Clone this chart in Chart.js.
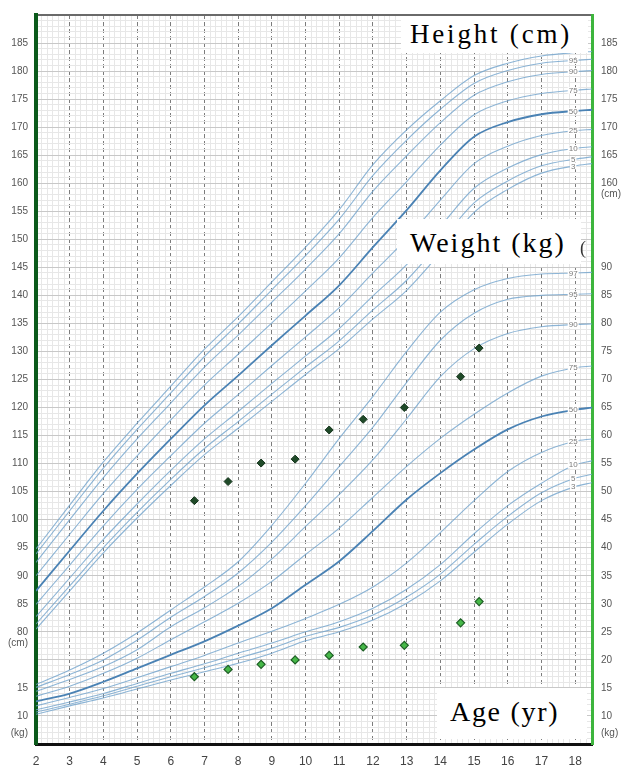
<!DOCTYPE html>
<html><head><meta charset="utf-8">
<script src="https://cdn.jsdelivr.net/npm/chart.js@4.4.1/dist/chart.umd.min.js"></script>
<style>
html,body{margin:0;padding:0;background:#fff;}
#wrap{position:relative;width:622px;height:766px;overflow:hidden;background:#fff;}
canvas{position:absolute;left:0;top:0;}
.box{position:absolute;background:#fff;color:#000;font-family:"Liberation Serif","DejaVu Serif",serif;white-space:nowrap;box-sizing:border-box;}
</style></head>
<body><div id="wrap"><canvas id="c" width="622" height="766"></canvas>
<div class="box" style="left:401px;top:16px;width:187px;height:37px;font-size:27px;letter-spacing:2.8px;line-height:30px;padding:3px 0 0 9px;">Height (cm)</div>
<div class="box" style="left:397px;top:219px;width:184px;height:45px;font-size:28px;letter-spacing:2px;line-height:31px;padding:8px 0 0 13px;">Weight (kg)</div>
<div class="box" style="left:580px;top:238px;background:transparent;font-size:18px;color:#333;line-height:20px;">(</div>
<div class="box" style="left:437px;top:688px;width:150px;height:51px;font-size:28px;letter-spacing:1.7px;line-height:31px;padding:8px 0 0 13px;">Age (yr)</div>
</div>
<script>
// ages (years) at which percentile curves are read
const ages = [2,3,4,5,6,7,8,9,10,11,12,13,14,15,16,17,18,18.5];

// Height percentiles (cm)
const hP97 = [94.8,102.6,110.3,117.2,123.8,130.4,136.2,142.4,148.6,155.3,163.3,169.5,174.7,179.2,181.4,182.7,183.3,183.5];
const hP95 = [93.9,101.6,109.2,116.1,122.6,129.1,134.9,141.0,147.1,153.6,161.4,167.7,173.2,177.8,180.1,181.4,181.9,182.1];
const hP90 = [92.4,100.0,107.5,114.4,120.8,127.2,132.9,138.8,144.7,151.0,158.6,164.9,170.8,175.7,178.1,179.4,179.9,180.1];
const hP75 = [90.0,97.4,104.7,111.4,117.8,124.0,129.5,135.1,140.8,146.7,153.9,160.3,166.8,172.2,174.7,176.0,176.6,176.8];
const hP50 = [87.3,94.5,101.6,108.2,114.4,120.4,125.7,131.1,136.4,141.8,148.6,155.2,162.3,168.3,170.9,172.3,172.9,173.1];
const hP25 = [84.9,91.9,98.9,105.4,111.4,117.2,122.3,127.5,132.6,137.8,144.0,150.1,157.0,163.5,166.6,168.5,169.4,169.6];
const hP10 = [82.7,89.6,96.5,102.8,108.8,114.4,119.3,124.3,129.2,134.1,139.9,145.5,152.3,159.1,162.7,165.1,166.2,166.5];
const hP5  = [81.4,88.2,95.0,101.3,107.2,112.7,117.5,122.4,127.2,131.9,137.4,142.7,149.5,156.5,160.4,163.1,164.3,164.7];
const hP3  = [80.5,87.3,94.1,100.3,106.1,111.6,116.3,121.1,125.9,130.5,135.8,140.9,147.6,154.8,158.9,161.8,163.1,163.5];

// Weight percentiles (kg)
const wP97 = [15.6,18.2,21.2,24.8,28.9,33.0,37.5,44.0,51.5,59.5,67.0,75.0,82.0,86.0,88.0,88.8,89.0,89.1];
const wP95 = [15.1,17.4,20.0,23.5,27.6,31.3,35.5,41.0,47.5,54.5,61.5,69.5,77.0,81.8,84.3,85.0,85.2,85.3];
const wP90 = [14.4,16.5,18.8,21.8,25.9,29.3,33.1,38.0,43.8,49.5,55.7,63.0,70.5,75.5,78.2,79.4,79.8,79.9];
const wP75 = [13.5,15.3,17.6,20.3,23.6,26.8,30.1,34.0,38.8,43.5,49.0,54.5,59.5,63.8,67.6,70.6,72.1,72.4];
const wP50 = [12.6,14.0,16.1,18.5,20.9,23.3,26.1,29.2,33.4,37.6,43.0,48.6,53.3,57.5,61.1,63.4,64.6,65.0];
const wP25 = [11.8,13.3,14.9,16.8,18.8,20.8,23.0,25.1,27.4,29.9,33.0,37.3,42.7,48.4,53.6,57.0,59.0,59.4];
const wP10 = [11.1,12.5,14.0,15.8,17.6,19.3,21.2,23.0,25.0,26.8,29.2,32.6,37.0,42.5,47.5,51.5,54.8,55.5];
const wP5  = [10.7,12.1,13.6,15.3,17.0,18.6,20.3,22.1,24.2,25.8,28.0,31.2,35.3,40.6,45.6,49.8,52.4,53.1];
const wP3  = [10.3,11.8,13.2,14.8,16.4,17.9,19.4,21.2,23.4,25.0,27.1,30.1,34.1,39.2,44.2,48.4,50.9,51.6];

// Measured child
const pointAges = [6.7,7.7,8.68,9.69,10.7,11.71,12.93,14.6,15.15];
const heightPts = [103.4,106.8,110.1,110.8,116.0,117.9,120.0,125.5,130.6];
const weightPts = [17.0,18.3,19.2,20.0,20.8,22.3,22.6,26.6,30.4];

// Tick labels
const xTickYears = [2,3,4,5,6,7,8,9,10,11,12,13,14,15,16,17,18];
const leftHeightTicks = [80,85,90,95,100,105,110,115,120,125,130,135,140,145,150,155,160,165,170,175,180,185];
const leftWeightTicks = [10,15];
const rightHeightTicks = [160,165,170,175,180,185];
const rightWeightTicks = [10,15,20,25,30,35,40,45,50,55,60,65,70,75,80,85,90];
const heightPctLabels = ['', '95','90','75','50','25','10','5','3'];
const weightPctLabels = ['97','95','90','75','50','25','10','5','3'];

const OFFSET = 55; // height-scale value = weight + 55 on this chart

const heightSeries = [hP97,hP95,hP90,hP75,hP50,hP25,hP10,hP5,hP3];
const weightSeries = [wP97,wP95,wP90,wP75,wP50,wP25,wP10,wP5,wP3];

const LIGHT = 'rgba(112,162,204,0.8)';
const DARK = '#4a82b4';

function curve(arr, lab, axis, isMain) {
  return {
    type: 'line',
    data: ages.map((a, i) => ({x: a * 12, y: arr[i]})),
    yAxisID: axis,
    borderColor: isMain ? DARK : LIGHT,
    borderWidth: isMain ? 1.8 : 1.1,
    pointRadius: 0,
    cubicInterpolationMode: 'monotone',
    fill: false,
    endLabel: lab,
    order: isMain ? 1 : 2
  };
}

const datasets = [];
datasets.push({
  type: 'scatter', data: pointAges.map((a, i) => ({x: a * 12, y: heightPts[i]})), yAxisID: 'y',
  pointStyle: 'rectRot', pointRadius: 4, backgroundColor: '#1f4a28', borderColor: '#14331b', borderWidth: 1, order: 0
});
datasets.push({
  type: 'scatter', data: pointAges.map((a, i) => ({x: a * 12, y: weightPts[i]})), yAxisID: 'yw',
  pointStyle: 'rectRot', pointRadius: 4, backgroundColor: '#46b848', borderColor: '#1d5e24', borderWidth: 1.2, order: 0
});
heightSeries.forEach((s, i) => datasets.push(curve(s, heightPctLabels[i], 'y', i === 4)));
weightSeries.forEach((s, i) => datasets.push(curve(s, weightPctLabels[i], 'yw', i === 4)));

const endLabels = {
  id: 'endLabels',
  afterDatasetsDraw(chart) {
    const ctx = chart.ctx;
    const idx = ages.indexOf(18);
    ctx.save();
    ctx.font = '8px "Liberation Sans", Arial, sans-serif';
    ctx.textAlign = 'center';
    ctx.textBaseline = 'middle';
    chart.data.datasets.forEach((ds, di) => {
      if (!ds.endLabel) return;
      const el = chart.getDatasetMeta(di).data[idx];
      if (!el) return;
      const w = ctx.measureText(ds.endLabel).width + 2;
      ctx.fillStyle = '#fff';
      ctx.fillRect(el.x - 2 - w / 2, el.y - 3, w, 6.5);
      ctx.fillStyle = '#7a7a7a';
      ctx.fillText(ds.endLabel, el.x - 2, el.y + 0.5);
    });
    ctx.restore();
  }
};

const isYear = v => Math.round(v) % 12 === 0;

new Chart(document.getElementById('c'), {
  data: {datasets},
  options: {
    responsive: false, animation: false, devicePixelRatio: 1,
    layout: {padding: 0},
    plugins: {legend: {display: false}, tooltip: {enabled: false}},
    scales: {
      x: {
        type: 'linear', position: 'bottom', min: 24, max: 222,
        ticks: {
          stepSize: 2, autoSkip: false, maxRotation: 0, padding: 10,
          color: '#444', font: {family: '"Liberation Sans", Arial, sans-serif', size: 12},
          callback: v => (isYear(v) && xTickYears.includes(Math.round(v) / 12)) ? String(Math.round(v) / 12) : ''
        },
        grid: {
          drawTicks: false, lineWidth: 1,
          color: c => (c.tick && isYear(c.tick.value)) ? '#7c7c7c' : '#e7e7e7'
        },
        border: {
          display: true, color: '#111', width: 3,
          dash: c => (c.tick && isYear(c.tick.value)) ? [4, 3] : []
        },
        afterFit: s => { s.height = 22; }
      },
      xTop: {
        type: 'linear', position: 'top', min: 24, max: 222,
        ticks: {display: false},
        grid: {display: false, drawTicks: false},
        border: {display: true, color: '#6a6a6a', width: 2},
        afterFit: s => { s.height = 14; }
      },
      y: {
        type: 'linear', position: 'left', min: 60, max: 190,
        ticks: {
          stepSize: 1, autoSkip: false, padding: 8,
          color: '#555', font: {family: '"Liberation Sans", Arial, sans-serif', size: 10},
          callback: v => {
            if (leftHeightTicks.includes(v)) return String(v);
            if (v === 78) return '(cm)';
            if (leftWeightTicks.includes(v - OFFSET)) return String(v - OFFSET);
            if (v === 62) return '(kg)';
            return '';
          }
        },
        grid: {
          drawTicks: false, lineWidth: 1,
          color: c => (c.tick && Math.round(c.tick.value) % 5 === 0) ? '#c8c8c8' : '#e7e7e7'
        },
        border: {display: true, color: '#0b5a1b', width: 4},
        afterFit: s => { s.width = 36; }
      },
      yw: {
        type: 'linear', position: 'right', min: 5, max: 135,
        ticks: {
          stepSize: 1, autoSkip: false, padding: 9,
          color: '#555', font: {family: '"Liberation Sans", Arial, sans-serif', size: 10},
          callback: v => {
            if (rightHeightTicks.includes(v + OFFSET)) return String(v + OFFSET);
            if (v === 103) return '(cm)';
            if (rightWeightTicks.includes(v)) return String(v);
            if (v === 7) return '(kg)';
            return '';
          }
        },
        grid: {drawOnChartArea: false, drawTicks: false},
        border: {display: true, color: '#3db53d', width: 3},
        afterFit: s => { s.width = 30; }
      }
    }
  },
  plugins: [endLabels]
});
</script>
</body></html>
